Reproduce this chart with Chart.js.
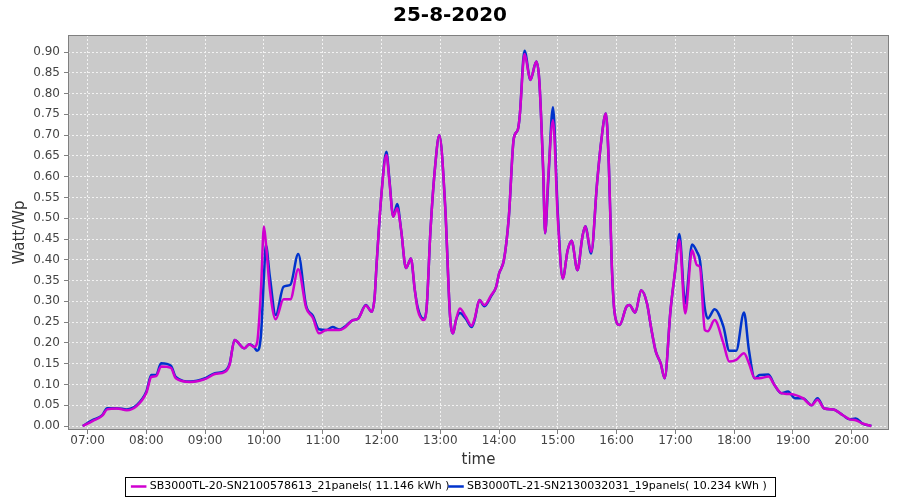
<!DOCTYPE html>
<html>
<head>
<meta charset="utf-8">
<script src="https://cdn.jsdelivr.net/npm/chart.js@4/dist/chart.umd.min.js"></script>
<style>
  html, body { margin: 0; padding: 0; background: #ffffff; }
  #wrap { width: 900px; height: 500px; }
</style>
</head>
<body>
<div id="wrap"><canvas id="c" width="900" height="500"></canvas></div>
<script>
// time of day in minutes after midnight
const times = [
  415, 425, 435, 440, 450, 460, 470, 480, 485, 490, 495, 505, 510, 525, 540, 550, 560, 565,
  570, 580, 585, 590, 593, 597, 600, 602, 606, 612, 620, 627, 635, 643, 650, 656, 664, 670,
  677, 682, 691, 696, 704, 710, 713, 715, 720, 725, 728, 732, 736, 740, 745, 750, 754, 757,
  763, 766, 770, 775, 779, 785, 790, 793, 796, 800, 806, 812, 815, 820, 825, 832, 837, 840,
  845, 850, 855, 859, 861, 866, 872, 878, 881, 885, 887, 890, 895, 900, 905, 910, 914, 920,
  925, 928, 934, 940, 944, 949, 952, 955, 958, 963, 970, 973, 979, 985, 991, 995, 1000, 1005,
  1009, 1015, 1020, 1024, 1030, 1037, 1042, 1045, 1050, 1053, 1060, 1069, 1075, 1082, 1090, 1095, 1101, 1106,
  1115, 1121, 1128, 1135, 1142, 1150, 1159, 1165, 1172, 1181, 1191, 1198, 1204, 1211, 1220
];

// SB3000TL-20 (magenta)
const inverter20 = [
  0, 0.012, 0.025, 0.040, 0.042, 0.038, 0.048, 0.080, 0.118, 0.120, 0.143, 0.140, 0.115, 0.106, 0.113, 0.125, 0.130, 0.148,
  0.207, 0.187, 0.197, 0.190, 0.200, 0.330, 0.480, 0.440, 0.330, 0.257, 0.305, 0.305, 0.377, 0.285, 0.260, 0.223, 0.231, 0.231,
  0.231, 0.236, 0.255, 0.258, 0.290, 0.275, 0.311, 0.390, 0.560, 0.652, 0.590, 0.504, 0.524, 0.472, 0.380, 0.403, 0.327, 0.279,
  0.255, 0.283, 0.472, 0.632, 0.700, 0.528, 0.263, 0.223, 0.255, 0.283, 0.263, 0.241, 0.258, 0.303, 0.291, 0.315, 0.335, 0.367,
  0.400, 0.504, 0.692, 0.712, 0.744, 0.895, 0.833, 0.877, 0.833, 0.616, 0.464, 0.592, 0.736, 0.496, 0.355, 0.423, 0.446, 0.375,
  0.455, 0.481, 0.419, 0.584, 0.680, 0.752, 0.632, 0.390, 0.271, 0.243, 0.287, 0.291, 0.273, 0.327, 0.295, 0.239, 0.179, 0.151,
  0.115, 0.279, 0.379, 0.448, 0.271, 0.423, 0.387, 0.383, 0.231, 0.228, 0.255, 0.199, 0.155, 0.159, 0.175, 0.151, 0.115, 0.115,
  0.119, 0.099, 0.079, 0.077, 0.075, 0.067, 0.050, 0.063, 0.042, 0.040, 0.026, 0.016, 0.014, 0.006, 0
];

// SB3000TL-21 (blue)
const inverter21 = [
  0, 0.014, 0.026, 0.043, 0.043, 0.040, 0.050, 0.083, 0.123, 0.123, 0.151, 0.145, 0.118, 0.107, 0.115, 0.127, 0.132, 0.150,
  0.207, 0.187, 0.197, 0.190, 0.181, 0.220, 0.360, 0.435, 0.360, 0.267, 0.335, 0.340, 0.414, 0.290, 0.265, 0.233, 0.231, 0.238,
  0.232, 0.238, 0.255, 0.258, 0.291, 0.275, 0.311, 0.390, 0.560, 0.660, 0.595, 0.504, 0.534, 0.472, 0.380, 0.403, 0.327, 0.285,
  0.258, 0.283, 0.472, 0.632, 0.700, 0.528, 0.263, 0.223, 0.255, 0.272, 0.258, 0.238, 0.255, 0.303, 0.288, 0.313, 0.335, 0.367,
  0.400, 0.504, 0.692, 0.712, 0.744, 0.903, 0.833, 0.877, 0.833, 0.616, 0.464, 0.580, 0.767, 0.510, 0.355, 0.423, 0.446, 0.375,
  0.455, 0.481, 0.415, 0.584, 0.680, 0.752, 0.632, 0.390, 0.271, 0.243, 0.287, 0.291, 0.273, 0.327, 0.295, 0.239, 0.179, 0.151,
  0.115, 0.279, 0.379, 0.462, 0.295, 0.437, 0.419, 0.399, 0.283, 0.259, 0.281, 0.239, 0.181, 0.181, 0.273, 0.183, 0.115, 0.123,
  0.124, 0.099, 0.079, 0.083, 0.067, 0.067, 0.050, 0.067, 0.042, 0.040, 0.026, 0.016, 0.018, 0.006, 0
];

const hourTicks = [420, 480, 540, 600, 660, 720, 780, 840, 900, 960, 1020, 1080, 1140, 1200];
const valueTicks = [0, 0.05, 0.10, 0.15, 0.20, 0.25, 0.30, 0.35, 0.40, 0.45, 0.50, 0.55, 0.60, 0.65, 0.70, 0.75, 0.80, 0.85, 0.90];

const seriesLabels = [
  'SB3000TL-20-SN2100578613_21panels( 11.146 kWh )',
  'SB3000TL-21-SN2130032031_19panels( 10.234 kWh )'
];
const seriesColors = ['#d000d0', '#0033cc'];

const FONT = "'DejaVu Sans', sans-serif";

const hhmm = m => String(Math.floor(m / 60)).padStart(2, '0') + ':' + String(m % 60).padStart(2, '0');

// grey plot background + frame, and a thin box round the legend
const plotFrame = {
  id: 'plotFrame',
  beforeDraw(chart) {
    const { ctx, chartArea: a } = chart;
    ctx.save();
    ctx.fillStyle = '#cacaca';
    ctx.fillRect(a.left, a.top, a.right - a.left, a.bottom - a.top);
    ctx.restore();
  },
  afterDatasetsDraw(chart) {
    const { ctx, chartArea: a } = chart;
    ctx.save();
    ctx.strokeStyle = '#808080';
    ctx.lineWidth = 1;
    ctx.strokeRect(a.left + 0.5, a.top + 0.5, a.right - a.left - 1, a.bottom - a.top - 1);
    const boxes = chart.legend.legendHitBoxes;
    if (boxes && boxes.length) {
      const l = Math.min(...boxes.map(b => b.left)) - 8;
      const r = Math.max(...boxes.map(b => b.left + b.width)) + 8;
      const t = Math.min(...boxes.map(b => b.top)) - 4;
      const btm = Math.max(...boxes.map(b => b.top + b.height)) + 4;
      ctx.strokeStyle = '#000000';
      ctx.strokeRect(Math.round(l) + 0.5, Math.round(t) + 0.5, Math.round(r - l), Math.round(btm - t));
    }
    ctx.restore();
  }
};

const datasets = [inverter20, inverter21].map((vals, i) => ({
  label: seriesLabels[i],
  data: times.map((t, j) => ({ x: t, y: vals[j] })),
  borderColor: seriesColors[i],
  backgroundColor: seriesColors[i],
  borderWidth: 2.5,
  pointRadius: 0,
  cubicInterpolationMode: 'monotone',
  fill: false,
}));

new Chart(document.getElementById('c'), {
  type: 'line',
  data: { datasets },
  plugins: [plotFrame],
  options: {
    responsive: false,
    animation: false,
    layout: { padding: { left: 11, right: 11, top: 0, bottom: 0 } },
    plugins: {
      title: {
        display: true,
        text: '25-8-2020',
        color: '#000000',
        font: { family: FONT, size: 20, weight: 'bold' },
        padding: { top: 4, bottom: 7 }
      },
      legend: {
        position: 'bottom',
        maxHeight: 20,
        labels: {
          color: '#000000',
          font: { family: FONT, size: 11 },
          usePointStyle: true,
          pointStyle: 'line',
          boxWidth: 14,
          padding: 1
        }
      },
      tooltip: { enabled: false }
    },
    scales: {
      x: {
        type: 'linear',
        min: 400,
        max: 1238,
        afterBuildTicks: s => { s.ticks = hourTicks.map(v => ({ value: v })); },
        afterFit: s => { s.height = 50; },
        ticks: { color: '#444444', font: { family: FONT, size: 12 }, callback: v => hhmm(v), maxRotation: 0, padding: 0 },
        grid: { color: '#f2f2f2', tickBorderDash: [], tickColor: '#808080', tickLength: 4 },
        border: { display: false, dash: [2, 2] },
        title: { display: true, text: 'time', color: '#333333', font: { family: FONT, size: 15 }, padding: { top: 0, bottom: 11 } }
      },
      y: {
        min: -0.0096,
        max: 0.941,
        afterBuildTicks: s => { s.ticks = valueTicks.map(v => ({ value: v })); },
        afterFit: s => { s.width = 57; },
        ticks: { color: '#444444', font: { family: FONT, size: 12 }, callback: v => v.toFixed(2), padding: 4 },
        grid: { color: '#f2f2f2', tickBorderDash: [], tickColor: '#808080', tickLength: 4 },
        border: { display: false, dash: [2, 2] },
        title: { display: true, text: 'Watt/Wp', color: '#333333', font: { family: FONT, size: 15 }, padding: { top: 0, bottom: 2 } }
      }
    }
  }
});
</script>
</body>
</html>
